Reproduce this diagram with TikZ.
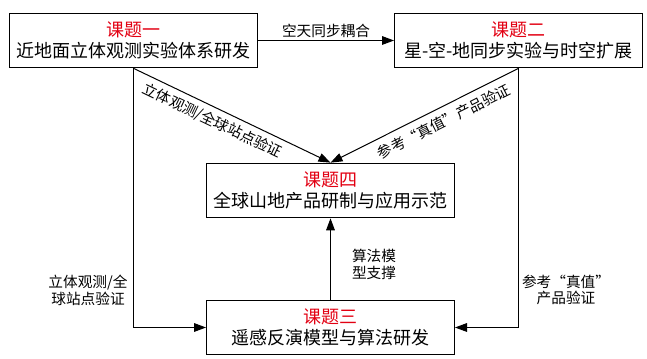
\documentclass[tikz,border=0pt]{standalone}
\usepackage{fontspec}
\setmainfont{Noto Sans CJK SC}
\usetikzlibrary{arrows.meta}
\definecolor{ttred}{RGB}{226,0,18}
\begin{document}
\begin{tikzpicture}[x=0.75pt,y=-0.75pt,
  box/.style={draw, line width=0.75pt, minimum width=186pt, minimum height=41pt,
    inner sep=0pt, align=center, font=\fontsize{13.5pt}{15.75pt}\selectfont},
  lab/.style={inner sep=0pt, align=center, font=\fontsize{11pt}{12.6pt}\selectfont},
  arr/.style={-{Triangle[length=9pt,width=6.5pt]}, line width=0.75pt}]
\useasboundingbox (0,0) rectangle (647,359);
\node[box] (b1) at (133.5,40.5) {\textcolor{ttred}{课题一}\\近地面立体观测实验体系研发};
\node[box] (b2) at (518.5,40.5) {\textcolor{ttred}{课题二}\\星-空-地同步实验与时空扩展};
\node[box] (b4) at (330.5,190.5) {\textcolor{ttred}{课题四}\\全球山地产品研制与应用示范};
\node[box] (b3) at (330.5,327.5) {\textcolor{ttred}{课题三}\\遥感反演模型与算法研发};
\draw[arr] (b1) -- node[lab, above=1.5pt]{空天同步耦合} (b2);
\draw[arr] (b1.south) -- node[lab, pos=0.43, sloped, below=4pt]{立体观测/全球站点验证} (b4.north);
\draw[arr] (b2.south) -- node[lab, pos=0.43, sloped, below=5pt]{参考“真值”产品验证} (b4.north);
\draw[arr] (b1.south) |- (b3.west);
\draw[arr] (b2.south) |- (b3.east);
\draw[arr] (b3) -- (b4);
\node[lab] (l1) at (88,290) {立体观测/全\\球站点验证};
\node[lab] (l2) at (566,290) {参考“真值”\\产品验证};
\node[lab] (l3) at (374,264.5) {算法模\\型支撑};
\end{tikzpicture}
\end{document}
